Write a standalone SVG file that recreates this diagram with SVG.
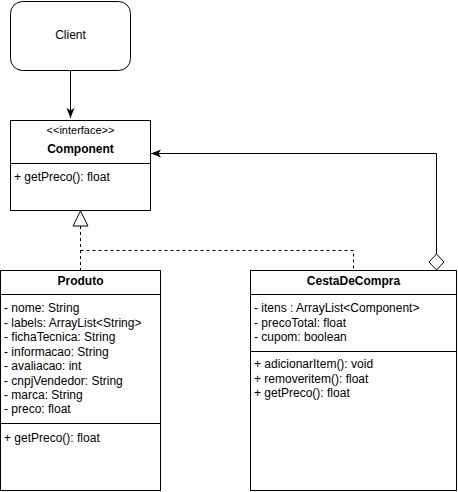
<svg xmlns="http://www.w3.org/2000/svg" width="458" height="492" viewBox="0 0 458 492">
<defs>
<style>
text{font-family:"Liberation Sans",Arial,sans-serif;font-size:12px;fill:#000}
.b{font-weight:bold}
.c{text-anchor:middle}
.s{font-size:11px}
.box{fill:#fff;stroke:#000;stroke-width:1}
.ln{stroke:#000;stroke-width:1;fill:none}
.dash{stroke-dasharray:3 3}
</style>
<marker id="arr" viewBox="0 0 10 10" refX="10" refY="5" markerWidth="10" markerHeight="10" markerUnits="userSpaceOnUse" orient="auto">
<path d="M0,1 L10,5 L0,9 L2.5,5 Z" fill="#000"/>
</marker>
</defs>
<rect width="458" height="492" fill="#fff"/>
<g id="connectors">
<path class="ln" d="M70.5,70 V118" marker-end="url(#arr)"/>
<path class="ln dash" d="M80.5,226 V270"/>
<path class="ln dash" d="M80.5,250.5 H353.5 V270"/>
<path d="M80.5,211 L73,226 H88 Z" fill="#fff" stroke="#000"/>
<path class="ln" d="M436.5,254 V153.5 H151" marker-end="url(#arr)"/>
<path d="M436.5,254 L429,262 L436.5,270 L444,262 Z" fill="#fff" stroke="#000"/>
</g>
<g id="client">
<rect class="box" x="10.5" y="1.5" width="120" height="69" rx="12"/>
<text class="c" x="70.5" y="39">Client</text>
</g>
<g id="component">
<rect class="box" x="10.5" y="120.5" width="140" height="90"/>
<text class="c s" x="80.5" y="134">&lt;&lt;interface&gt;&gt;</text>
<text class="c b" x="80.5" y="153">Component</text>
<path class="ln" d="M10.5,163.5 H150.5"/>
<text x="14" y="181">+ getPreco(): float</text>
</g>
<g id="produto">
<rect class="box" x="0.5" y="270.5" width="160" height="220"/>
<text class="c b" x="80.5" y="285">Produto</text>
<path class="ln" d="M0.5,294.5 H160.5"/>
<text x="4" y="312">- nome: String</text>
<text x="4" y="327">- labels: ArrayList&lt;String&gt;</text>
<text x="4" y="341">- fichaTecnica: String</text>
<text x="4" y="356">- informacao: String</text>
<text x="4" y="370">- avaliacao: int</text>
<text x="4" y="385">- cnpjVendedor: String</text>
<text x="4" y="399">- marca: String</text>
<text x="4" y="413">- preco: float</text>
<path class="ln" d="M0.5,423.5 H160.5"/>
<text x="4" y="442">+ getPreco(): float</text>
</g>
<g id="cestadecompra">
<rect class="box" x="250.5" y="270.5" width="206" height="220"/>
<text class="c b" x="353.5" y="285">CestaDeCompra</text>
<path class="ln" d="M250.5,294.5 H456.5"/>
<text x="254" y="312">- itens : ArrayList&lt;Component&gt;</text>
<text x="254" y="327">- precoTotal: float</text>
<text x="254" y="341">- cupom: boolean</text>
<path class="ln" d="M250.5,351.5 H456.5"/>
<text x="254" y="368">+ adicionarItem(): void</text>
<text x="254" y="383">+ removeritem(): float</text>
<text x="254" y="397">+ getPreco(): float</text>
</g>
</svg>
